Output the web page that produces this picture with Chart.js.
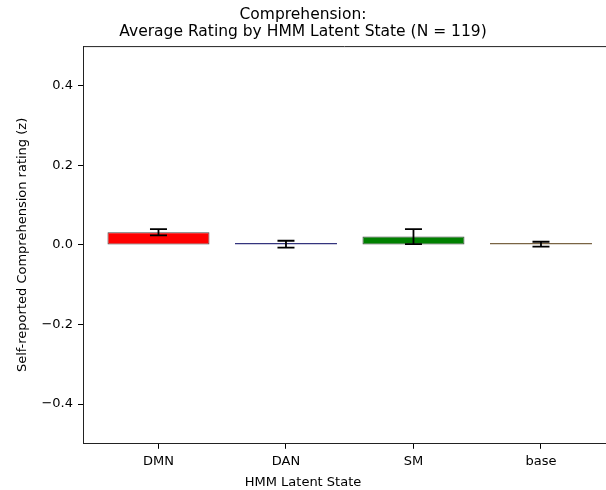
<!DOCTYPE html>
<html>
<head>
<meta charset="utf-8">
<script src="https://cdn.jsdelivr.net/npm/chart.js@4/dist/chart.umd.min.js"></script>
<style>
  html, body { margin: 0; padding: 0; background: #fff; overflow: hidden; }
</style>
</head>
<body>
<canvas id="chart" width="606" height="490"></canvas>
<script>
// data
const states = ['DMN', 'DAN', 'SM', 'base'];
const meanRating = [0.032, 0.002, 0.021, 0.002];
const errRating = [0.008, 0.0085, 0.019, 0.006];
const yTicks = [-0.4, -0.2, 0.0, 0.2, 0.4];

const barColors = ['#ff0000', '#000080', '#008000', '#a08050'];
const edgeColors = ['#444444', '#34347e', '#444444', '#7a6444'];
const FONT = "'DejaVu Sans', sans-serif";

// error bars + top spine (chart.js has no errorbar type)
const errorBars = {
    id: 'errorBars',
    afterDatasetsDraw(chart) {
        const ctx = chart.ctx;
        const y = chart.scales.y;
        const meta = chart.getDatasetMeta(0);
        ctx.save();
        ctx.strokeStyle = '#000';
        ctx.lineWidth = 1.8;
        meta.data.forEach(function(bar, i) {
            const top = y.getPixelForValue(meanRating[i] + errRating[i]);
            const bot = y.getPixelForValue(meanRating[i] - errRating[i]);
            ctx.beginPath();
            ctx.moveTo(bar.x, top); ctx.lineTo(bar.x, bot);
            ctx.moveTo(bar.x - 8.5, top); ctx.lineTo(bar.x + 8.5, top);
            ctx.moveTo(bar.x - 8.5, bot); ctx.lineTo(bar.x + 8.5, bot);
            ctx.stroke();
        });
        // top spine
        const a = chart.chartArea;
        ctx.lineWidth = 1;
        ctx.strokeStyle = '#222';
        ctx.beginPath();
        ctx.moveTo(a.left, a.top + 0.5);
        ctx.lineTo(a.right, a.top + 0.5);
        ctx.stroke();
        ctx.restore();
    }
};

const ctx = document.getElementById('chart').getContext('2d');
const chart = new Chart(ctx, {
    type: 'bar',
    data: {
        datasets: [{
            data: states.map((s, i) => ({ x: i, y: meanRating[i] })),
            backgroundColor: barColors,
            borderColor: edgeColors,
            borderWidth: 1,
            borderSkipped: false,
            minBarLength: 2,
            barPercentage: 0.8,
            categoryPercentage: 1.0
        }]
    },
    options: {
        responsive: false,
        animation: false,
        devicePixelRatio: 1,
        layout: { padding: 0 },
        plugins: {
            legend: { display: false },
            tooltip: { enabled: false },
            title: {
                display: true,
                text: ['Comprehension:', 'Average Rating by HMM Latent State (N = 119)'],
                color: '#000',
                font: { family: FONT, size: 15.5, weight: 'normal', lineHeight: 1.1 },
                padding: { top: 6, bottom: 6 }
            },
            subtitle: {
                display: true,
                position: 'bottom',
                text: 'HMM Latent State',
                color: '#000',
                font: { family: FONT, size: 13, weight: 'normal' },
                padding: { top: 0, bottom: 0 }
            }
        },
        scales: {
            x: {
                type: 'linear',
                offset: false,
                min: -0.592,
                max: 3.51,
                afterBuildTicks: (s) => { s.ticks = states.map((c, i) => ({ value: i })); },
                ticks: {
                    color: '#000',
                    font: { family: FONT, size: 13 },
                    padding: 5,
                    maxRotation: 0,
                    callback: (v) => states[v]
                },
                grid: { offset: false, drawOnChartArea: false, color: '#000', tickLength: 5 },
                border: { color: '#222', width: 1 }
            },
            y: {
                min: -0.5,
                max: 0.5,
                afterBuildTicks: (s) => { s.ticks = yTicks.map(v => ({ value: v })); },
                afterFit: (s) => { s.width = 83; },
                ticks: {
                    color: '#000',
                    font: { family: FONT, size: 13 },
                    padding: 5,
                    callback: (v) => (v < 0 ? '\u2212' : '') + Math.abs(v).toFixed(1)
                },
                grid: { drawOnChartArea: false, color: '#000', tickLength: 5 },
                border: { color: '#222', width: 1 },
                title: {
                    display: true,
                    text: 'Self-reported Comprehension rating (z)',
                    color: '#000',
                    font: { family: FONT, size: 13 },
                    padding: { top: 15, bottom: 0 }
                }
            }
        }
    },
    plugins: [errorBars]
});
</script>
</body>
</html>
